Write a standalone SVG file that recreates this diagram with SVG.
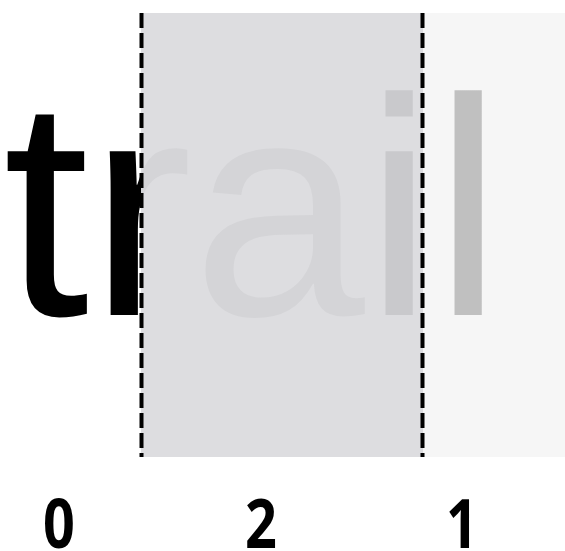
<svg xmlns="http://www.w3.org/2000/svg" width="565" height="551" viewBox="0 0 565 551">
  <style>
    .word { font-family: "Liberation Sans", Arial, sans-serif; font-size: 310px; }
    .num { font-family: "Open Sans", "Noto Sans", sans-serif; font-weight: 700; font-size: 68px; text-anchor: middle; fill: #000; }
    .divider { stroke: #000; stroke-width: 4; stroke-dasharray: 15 5; fill: none; }
  </style>
  <defs>
    <linearGradient id="wordFill" gradientUnits="userSpaceOnUse" x1="0" y1="0" x2="565" y2="0">
      <stop offset="0" stop-color="#000"/>
      <stop offset="0.2496" stop-color="#000"/>
      <stop offset="0.2496" stop-color="#d4d4d7"/>
      <stop offset="0.669" stop-color="#d4d4d7"/>
      <stop offset="0.669" stop-color="#c9c9cc"/>
      <stop offset="0.7487" stop-color="#c9c9cc"/>
      <stop offset="0.7487" stop-color="#c0c0c0"/>
      <stop offset="1" stop-color="#c0c0c0"/>
    </linearGradient>
  </defs>
  <rect width="565" height="551" fill="#fff"/>
  <g id="panel-1">
    <rect x="423" y="13" width="142" height="444" fill="#f6f6f6"/>
  </g>
  <g id="panel-2">
    <rect x="141" y="13" width="282" height="444" fill="#dddde0"/>
  </g>
  <g id="word">
    <text class="word" x="3" y="315" fill="url(#wordFill)">trail</text>
  </g>
  <g id="connectors">
    <line class="divider" x1="141.5" y1="13" x2="141.5" y2="457"/>
    <line class="divider" x1="422.5" y1="13" x2="422.5" y2="457"/>
  </g>
  <g id="label-0"><text class="num" transform="translate(59,548) scale(0.82,1)">0</text></g>
  <g id="label-2"><text class="num" transform="translate(261,548) scale(0.82,1)">2</text></g>
  <g id="label-1"><text class="num" transform="translate(462,548) scale(0.82,1)">1</text></g>
</svg>
